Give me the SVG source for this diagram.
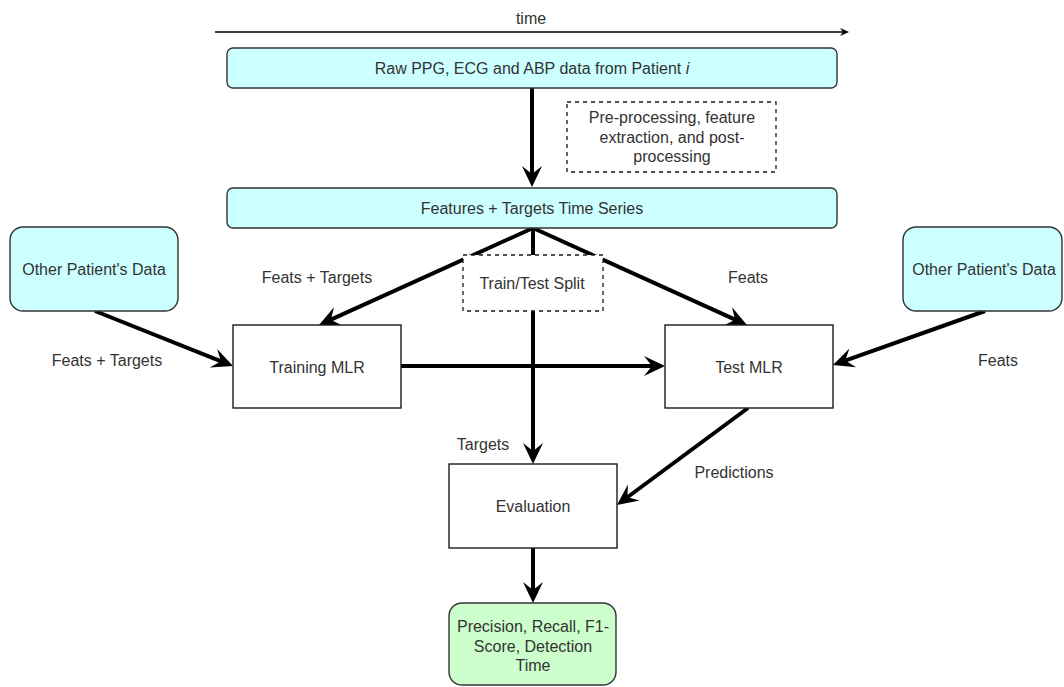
<svg xmlns="http://www.w3.org/2000/svg" width="1064" height="687" viewBox="0 0 1064 687">
  <style>
    text { font-family: "Liberation Sans", Arial, Helvetica, sans-serif; font-size: 16px; fill: #333333; text-anchor: middle; }
    .box { fill: #ffffff; stroke: #1a1a1a; stroke-width: 1.4; }
    .cyan { fill: #ccffff; stroke: #333333; stroke-width: 1.4; }
    .green { fill: #ccffcc; stroke: #333333; stroke-width: 1.4; }
    .dashed { fill: #ffffff; stroke: #1a1a1a; stroke-width: 1.3; stroke-dasharray: 4 4; }
    .flow { fill: none; stroke: #000000; stroke-width: 4; marker-end: url(#head); }
    .axis { fill: none; stroke: #000000; stroke-width: 1.4; marker-end: url(#small); }
  </style>
  <defs>
    <marker id="head" markerUnits="userSpaceOnUse" markerWidth="24" markerHeight="24" viewBox="0 0 24 24" refX="11" refY="12" orient="auto">
      <path d="M21,12 L0,2 L8,12 L0,22 Z" fill="#000000"/>
    </marker>
    <marker id="small" markerUnits="userSpaceOnUse" markerWidth="10" markerHeight="10" viewBox="0 0 10 10" refX="3" refY="5" orient="auto">
      <path d="M9,5 L0,1 L3,5 L0,9 Z" fill="#000000"/>
    </marker>
  </defs>

  <!-- time axis -->
  <g id="time-axis">
    <line class="axis" x1="215" y1="32" x2="843" y2="32"/>
    <text x="531" y="24">time</text>
  </g>

  <!-- connectors -->
  <g id="connectors">
    <line class="flow" x1="532" y1="88" x2="532" y2="177"/>
    <line class="flow" x1="533" y1="228" x2="328.1" y2="320.9"/>
    <line class="flow" x1="533" y1="228" x2="737.9" y2="320.9"/>
    <line class="flow" x1="533" y1="228" x2="533" y2="454"/>
    <line class="flow" x1="401" y1="366" x2="655" y2="366"/>
    <line class="flow" x1="95" y1="311" x2="223.7" y2="362.3"/>
    <line class="flow" x1="985" y1="311" x2="842.4" y2="361.6"/>
    <line class="flow" x1="748" y1="408" x2="625" y2="499"/>
    <line class="flow" x1="533" y1="548" x2="533" y2="593"/>
  </g>

  <!-- connector labels -->
  <g id="labels">
    <text x="317" y="283">Feats + Targets</text>
    <text x="107" y="366">Feats + Targets</text>
    <text x="748" y="283">Feats</text>
    <text x="998" y="366">Feats</text>
    <text x="483" y="450">Targets</text>
    <text x="734" y="478">Predictions</text>
  </g>

  <g id="raw-data">
    <rect class="cyan" x="227" y="48" width="610" height="40" rx="6"/>
    <text x="532" y="74">Raw PPG, ECG and ABP data from Patient <tspan font-style="italic">i</tspan></text>
  </g>

  <g id="preprocessing-note">
    <rect class="dashed" x="567" y="102" width="209" height="70"/>
    <text x="672" y="123">Pre-processing, feature</text>
    <text x="672" y="142.5">extraction, and post-</text>
    <text x="672" y="162">processing</text>
  </g>

  <g id="features">
    <rect class="cyan" x="227" y="188" width="610" height="40" rx="6"/>
    <text x="532" y="213.5">Features + Targets Time Series</text>
  </g>

  <g id="other-left">
    <rect class="cyan" x="10" y="227" width="168" height="84" rx="13"/>
    <text x="94" y="275">Other Patient's Data</text>
  </g>

  <g id="other-right">
    <rect class="cyan" x="903" y="227" width="159" height="84" rx="13"/>
    <text x="984" y="275">Other Patient's Data</text>
  </g>

  <g id="split-note">
    <rect class="dashed" x="463" y="255" width="140" height="56"/>
    <text x="532" y="289">Train/Test Split</text>
  </g>

  <g id="training">
    <rect class="box" x="233" y="325" width="168" height="83"/>
    <text x="317" y="373">Training MLR</text>
  </g>

  <g id="test">
    <rect class="box" x="665" y="325" width="168" height="83"/>
    <text x="749" y="373">Test MLR</text>
  </g>

  <g id="evaluation">
    <rect class="box" x="449" y="464" width="168" height="84"/>
    <text x="533" y="512">Evaluation</text>
  </g>

  <g id="metrics">
    <rect class="green" x="449" y="603" width="167" height="82" rx="13"/>
    <text x="533" y="632">Precision, Recall, F1-</text>
    <text x="533" y="651.5">Score, Detection</text>
    <text x="533" y="671">Time</text>
  </g>
</svg>
